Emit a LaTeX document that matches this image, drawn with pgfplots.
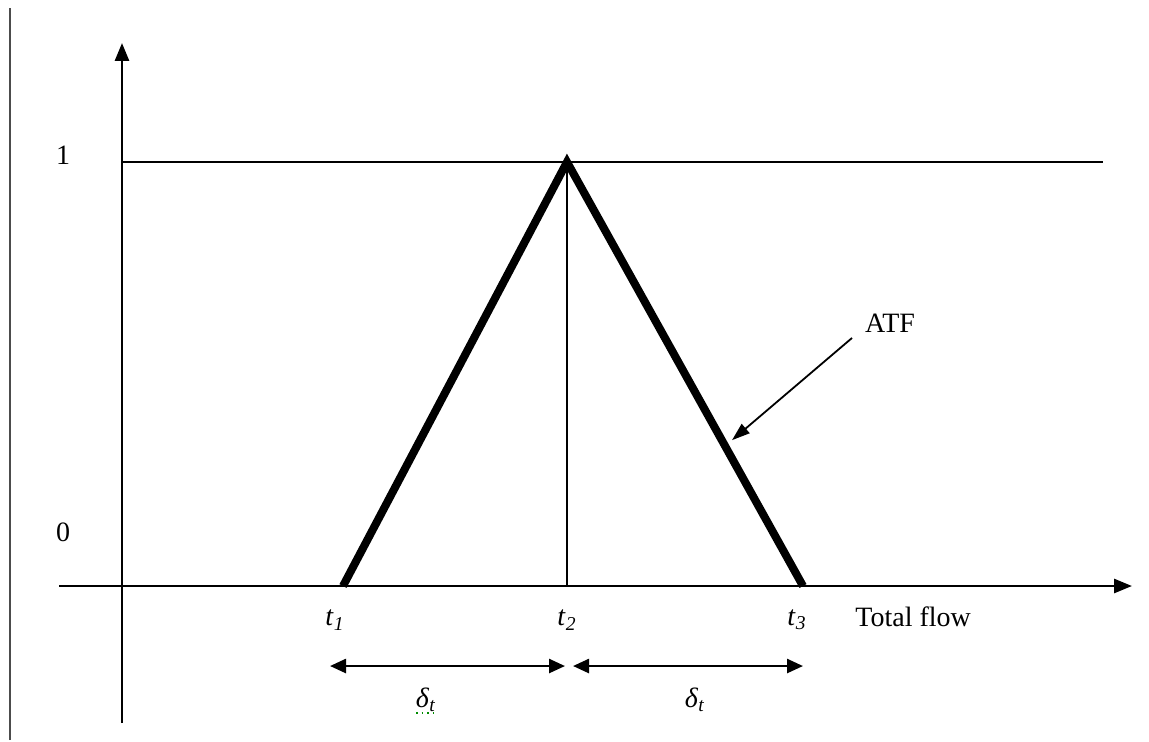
\documentclass[border=0pt]{standalone}
\usepackage{pgfplots}
\pgfplotsset{compat=1.18}
\usepackage{fontspec}
\setmainfont{Liberation Serif}
\usetikzlibrary{arrows.meta}
\tikzset{lbl/.style={font=\fontsize{14}{16}\selectfont, inner sep=0pt}}
\begin{document}
\begin{tikzpicture}
\begin{axis}[
  width=574.5pt, height=370pt, scale only axis,
  xmin=-122, xmax=1027, ymin=-0.3632, ymax=1.3821,
  hide axis, clip=false,
]
% page frame
\path (axis cs:-122,-0.3632) rectangle (axis cs:1027,1.3821);
% left rule
\addplot[draw=black!70, line width=1.3pt] coordinates {(-112,-0.3632) (-112,1.363)};
% axes
\addplot[black, line width=1.4pt, -{Triangle[length=9pt,width=7pt]}] coordinates {(0,-0.3231) (0,1.2807)};
\addplot[black, line width=1.4pt, -{Triangle[length=9pt,width=7pt]}] coordinates {(-63,0) (1010,0)};
% level 1
\addplot[black, line width=0.9pt] coordinates {(0,1) (981,1)};
% triangular function
\addplot[black, line width=4pt, line join=miter] coordinates {(221,0) (445,1) (681,0)};
\addplot[black, line width=0.7pt] coordinates {(445,0) (445,1)};
% spread arrows
\addplot[black, line width=1.3pt, {Triangle[length=8pt,width=7pt]}-{Triangle[length=8pt,width=7pt]}] coordinates {(208,-0.1887) (443,-0.1887)};
\addplot[black, line width=1.3pt, {Triangle[length=8pt,width=7pt]}-{Triangle[length=8pt,width=7pt]}] coordinates {(451,-0.1887) (681,-0.1887)};
% pointer to ATF
\addplot[black, line width=0.9pt, -{Triangle[length=9pt,width=6pt]}] coordinates {(730,0.585) (610,0.344)};
% labels
\node[lbl] at (axis cs:-59,1.0165) {1};
\node[lbl] at (axis cs:-59,0.127) {0};
\node[lbl] at (axis cs:213,-0.0802) {\textit{t}\textsubscript{\textit{1}}};
\node[lbl] at (axis cs:445,-0.0802) {\textit{t}\textsubscript{\textit{2}}};
\node[lbl] at (axis cs:675,-0.0802) {\textit{t}\textsubscript{\textit{3}}};
\node[lbl, anchor=west] at (axis cs:733,-0.073) {Total flow};
\node[lbl] at (axis cs:768,0.620) {ATF};
\node[lbl] at (axis cs:304,-0.2689) {\textit{δ}\textsubscript{\textit{t}}};
\node[lbl] at (axis cs:573,-0.2689) {\textit{δ}\textsubscript{\textit{t}}};
\addplot[green!55!black, line width=0.8pt, dotted] coordinates {(294,-0.300) (316,-0.300)};
\end{axis}
\end{tikzpicture}
\end{document}
